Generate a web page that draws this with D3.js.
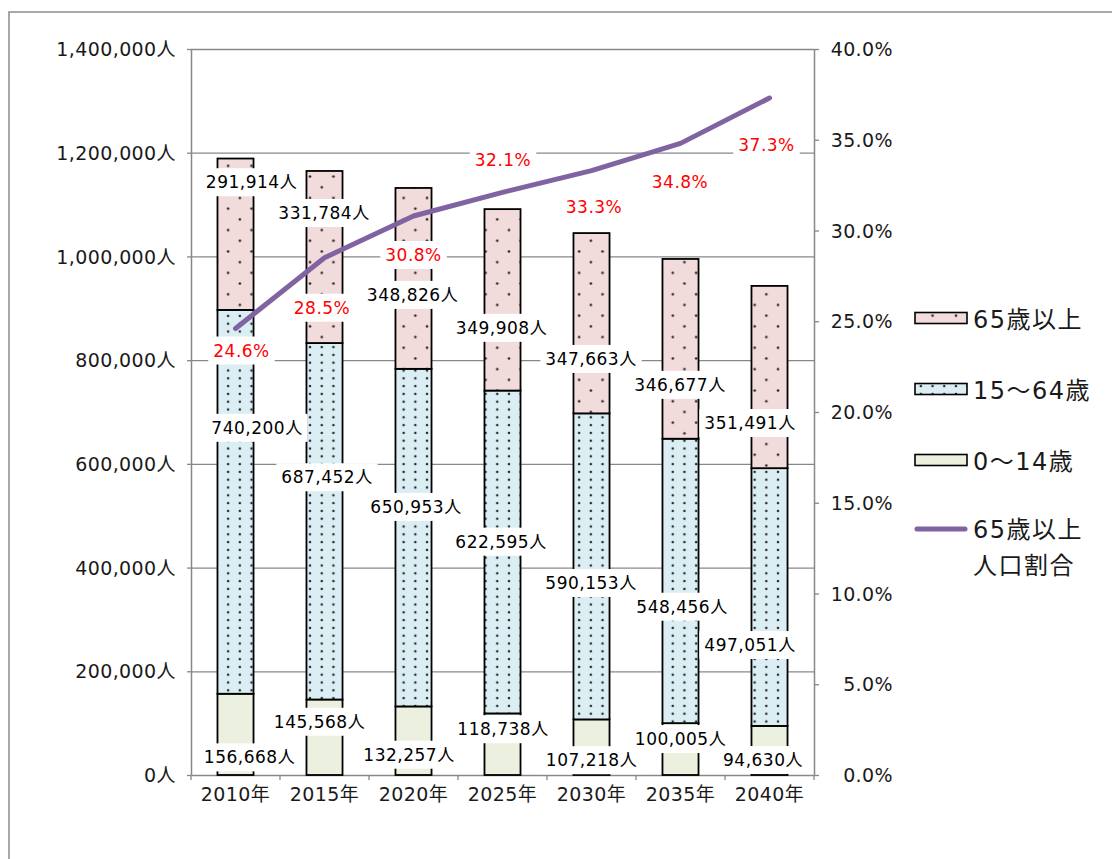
<!DOCTYPE html>
<html>
<head>
<meta charset="utf-8">
<script src="https://cdn.jsdelivr.net/npm/d3@7"></script>
<style>
  html, body { margin: 0; padding: 0; background: #fff; }
  svg text { font-family: "DejaVu Sans", "Noto Sans CJK JP", sans-serif; }
</style>
</head>
<body>
<svg id="chart" width="1112" height="859"></svg>
<script>
// ---- data ----
const years = ["2010年", "2015年", "2020年", "2025年", "2030年", "2035年", "2040年"];
const age0to14 = [156668, 145568, 132257, 118738, 107218, 100005, 94630];
const age15to64 = [740200, 687452, 650953, 622595, 590153, 548456, 497051];
const age65plus = [291914, 331784, 348826, 349908, 347663, 346677, 351491];
const elderlyRatio = [24.6, 28.5, 30.8, 32.1, 33.3, 34.8, 37.3];
const leftTicks = [0, 200000, 400000, 600000, 800000, 1000000, 1200000, 1400000];
const rightTicks = [0, 5, 10, 15, 20, 25, 30, 35, 40];
const seriesNames = ["65歳以上", "15～64歳", "0～14歳"];
const lineName = ["65歳以上", "人口割合"];

// ---- label nudges (px from segment middle / line point) ----
const nudge0to14 = [[14, 23], [-5, -15.5], [-4.5, 14], [0.5, -15], [0, 13], [0, -10], [-6.5, 9.5]];
const nudge15to64 = [[21.5, -74], [2.5, -44], [2.5, -30.7], [-1.5, -10.3], [-0.5, 16.6], [1.5, 25.8], [-19.5, 48]];
const nudge65plus = [[16, -52], [-0.5, -44], [-1, 16.5], [-1, 28], [-0.5, 35.7], [-0.5, 36], [-19.5, 46]];
const nudgeRatio = [[6, 22], [-2.5, 50], [0, 39], [0.5, -32.5], [2.5, 36.5], [-0.5, 38.3], [-3, 47]];

// ---- layout ----
const plot = { left: 191, right: 814, top: 49, bottom: 775 };
const gridColor = "#888888";
const fills = { a0: "#ebf1de", a1: "#daeef3", a2: "#f2dcdb" };
const dotColor = "#262626";

const svg = d3.select("#chart");

// outer frame
svg.append("rect")
  .attr("x", 9).attr("y", 12).attr("width", 1200).attr("height", 900)
  .attr("fill", "none").attr("stroke", "#8c8c8c").attr("stroke-width", 1.5);

// dotted fill patterns
const defs = svg.append("defs");
const pinkPat = defs.append("pattern").attr("id", "pat65")
  .attr("patternUnits", "userSpaceOnUse").attr("width", 23.4).attr("height", 21.4);
pinkPat.append("rect").attr("width", 23.4).attr("height", 21.4).attr("fill", fills.a2);
pinkPat.append("circle").attr("cx", 5.85).attr("cy", 5.35).attr("r", 1.3).attr("fill", dotColor);
pinkPat.append("circle").attr("cx", 17.55).attr("cy", 16.05).attr("r", 1.3).attr("fill", dotColor);

const bluePat = defs.append("pattern").attr("id", "pat1564")
  .attr("patternUnits", "userSpaceOnUse").attr("width", 11.7).attr("height", 7.8);
bluePat.append("rect").attr("width", 11.7).attr("height", 7.8).attr("fill", fills.a1);
bluePat.append("circle").attr("cx", 5.85).attr("cy", 3.9).attr("r", 1.25).attr("fill", dotColor);

const patFill = { a0: fills.a0, a1: "url(#pat1564)", a2: "url(#pat65)" };

// ---- scales ----
const x = d3.scaleBand().domain(years).range([plot.left, plot.right]).padding(0);
const barW = x.bandwidth() * 0.405;
const yL = d3.scaleLinear().domain([0, 1400000]).range([plot.bottom, plot.top]);
const yR = d3.scaleLinear().domain([0, 40]).range([plot.bottom, plot.top]);
const cx = d => x(d) + x.bandwidth() / 2;

// ---- gridlines ----
svg.append("g")
  .attr("transform", `translate(${plot.left},0)`)
  .call(d3.axisLeft(yL).tickValues(leftTicks.slice(1)).tickSize(-(plot.right - plot.left)).tickFormat(""))
  .call(g => g.select(".domain").remove())
  .call(g => g.selectAll("line").attr("stroke", gridColor).attr("stroke-width", 1.3));

// ---- left axis ----
svg.append("g")
  .attr("transform", `translate(${plot.left},0)`)
  .call(d3.axisLeft(yL).tickValues(leftTicks).tickSize(4).tickSizeOuter(0)
    .tickFormat(d => d3.format(",")(d) + "人"))
  .call(g => g.select(".domain").attr("stroke", gridColor).attr("stroke-width", 1.5))
  .call(g => g.selectAll(".tick line").attr("stroke", gridColor).attr("stroke-width", 1.3))
  .call(g => g.selectAll("text").attr("font-size", 19).attr("letter-spacing", 0.4)
    .attr("fill", "#1a1a1a").attr("dy", "0.35em").attr("x", -15));

// ---- right axis ----
svg.append("g")
  .attr("transform", `translate(${plot.right},0)`)
  .call(d3.axisRight(yR).tickValues(rightTicks).tickSize(5).tickSizeOuter(0)
    .tickFormat(d => d3.format(".1f")(d) + "%"))
  .call(g => g.select(".domain").attr("stroke", gridColor).attr("stroke-width", 1.5))
  .call(g => g.selectAll(".tick line").attr("stroke", gridColor).attr("stroke-width", 1.3))
  .call(g => g.selectAll("text").attr("font-size", 19).attr("letter-spacing", 0.4)
    .attr("fill", "#1a1a1a").attr("text-anchor", "end").attr("x", 79).attr("dy", "0.35em"));

// ---- bottom axis ----
svg.append("g")
  .attr("transform", `translate(0,${plot.bottom})`)
  .call(d3.axisBottom(x).tickSize(0).tickSizeOuter(0).tickPadding(16))
  .call(g => g.select(".domain").attr("stroke", gridColor).attr("stroke-width", 1.5))
  .call(g => g.selectAll("text").attr("font-size", 19).attr("letter-spacing", 0.4)
    .attr("fill", "#1a1a1a").attr("dy", "0.55em"));
// tick marks between categories
const boundaries = years.map(d => x(d)).concat([x.range()[1]]);
svg.append("g").selectAll("line").data(boundaries).join("line")
  .attr("x1", d => d).attr("x2", d => d)
  .attr("y1", plot.bottom).attr("y2", plot.bottom + 5)
  .attr("stroke", gridColor).attr("stroke-width", 1.3);

// ---- stacked bars ----
const table = years.map((yr, i) => ({ year: yr, a0: age0to14[i], a1: age15to64[i], a2: age65plus[i] }));
const stacked = d3.stack().keys(["a0", "a1", "a2"])(table);

svg.append("g").selectAll("g").data(stacked).join("g")
  .attr("fill", s => patFill[s.key])
  .selectAll("rect").data(s => s).join("rect")
  .attr("x", d => cx(d.data.year) - barW / 2)
  .attr("width", barW)
  .attr("y", d => yL(d[1]))
  .attr("height", d => yL(d[0]) - yL(d[1]))
  .attr("stroke", "#000").attr("stroke-width", 1.8);

// ---- ratio line ----
const line = d3.line().x((d, i) => cx(years[i])).y(d => yR(d));
svg.append("path")
  .datum(elderlyRatio)
  .attr("d", line)
  .attr("fill", "none")
  .attr("stroke", "#8064a2")
  .attr("stroke-width", 5)
  .attr("stroke-linecap", "round")
  .attr("stroke-linejoin", "round");

// ---- data labels ----
const labelLayer = svg.append("g");
function addLabel(px, py, str, color) {
  const g = labelLayer.append("g").attr("transform", `translate(${px},${py})`);
  const r = g.append("rect").attr("fill", "#fff");
  const t = g.append("text")
    .attr("text-anchor", "middle").attr("dominant-baseline", "central")
    .attr("font-size", 17).attr("letter-spacing", 0.5)
    .attr("fill", color).text(str);
  const bb = t.node().getBBox();
  r.attr("x", bb.x - 5).attr("y", -14).attr("width", bb.width + 10).attr("height", 28);
}
const nudges = { a0: nudge0to14, a1: nudge15to64, a2: nudge65plus };
stacked.forEach(s => {
  s.forEach((d, i) => {
    const v = d[1] - d[0];
    const mid = (yL(d[0]) + yL(d[1])) / 2;
    const [dx, dy] = nudges[s.key][i];
    addLabel(cx(d.data.year) + dx, mid + dy, d3.format(",")(v) + "人", "#000");
  });
});
elderlyRatio.forEach((p, i) => {
  const [dx, dy] = nudgeRatio[i];
  addLabel(cx(years[i]) + dx, yR(p) + dy, d3.format(".1f")(p) + "%", "#ff0000");
});

// ---- legend ----
const legend = svg.append("g").attr("transform", "translate(915,0)");
const legendItems = [
  { name: seriesNames[0], fill: patFill.a2, cy: 318 },
  { name: seriesNames[1], fill: patFill.a1, cy: 389 },
  { name: seriesNames[2], fill: patFill.a0, cy: 460 }
];
legendItems.forEach(it => {
  legend.append("rect")
    .attr("x", 0).attr("y", it.cy - 5.5).attr("width", 52).attr("height", 11)
    .attr("fill", it.fill).attr("stroke", "#000").attr("stroke-width", 1.6);
  legend.append("text")
    .attr("x", 58).attr("y", it.cy + 2).attr("dominant-baseline", "central")
    .attr("font-size", 24).attr("letter-spacing", 1.5).attr("fill", "#1a1a1a")
    .text(it.name);
});
legend.append("line")
  .attr("x1", 2).attr("x2", 50).attr("y1", 529).attr("y2", 529)
  .attr("stroke", "#8064a2").attr("stroke-width", 5).attr("stroke-linecap", "round");
const lt = legend.append("text")
  .attr("x", 58).attr("y", 530).attr("font-size", 24).attr("letter-spacing", 1.5).attr("fill", "#1a1a1a");
lt.selectAll("tspan").data(lineName).join("tspan")
  .attr("x", 58).attr("dy", (d, i) => i === 0 ? "0.35em" : "1.5em")
  .text(d => d);
</script>
</body>
</html>
